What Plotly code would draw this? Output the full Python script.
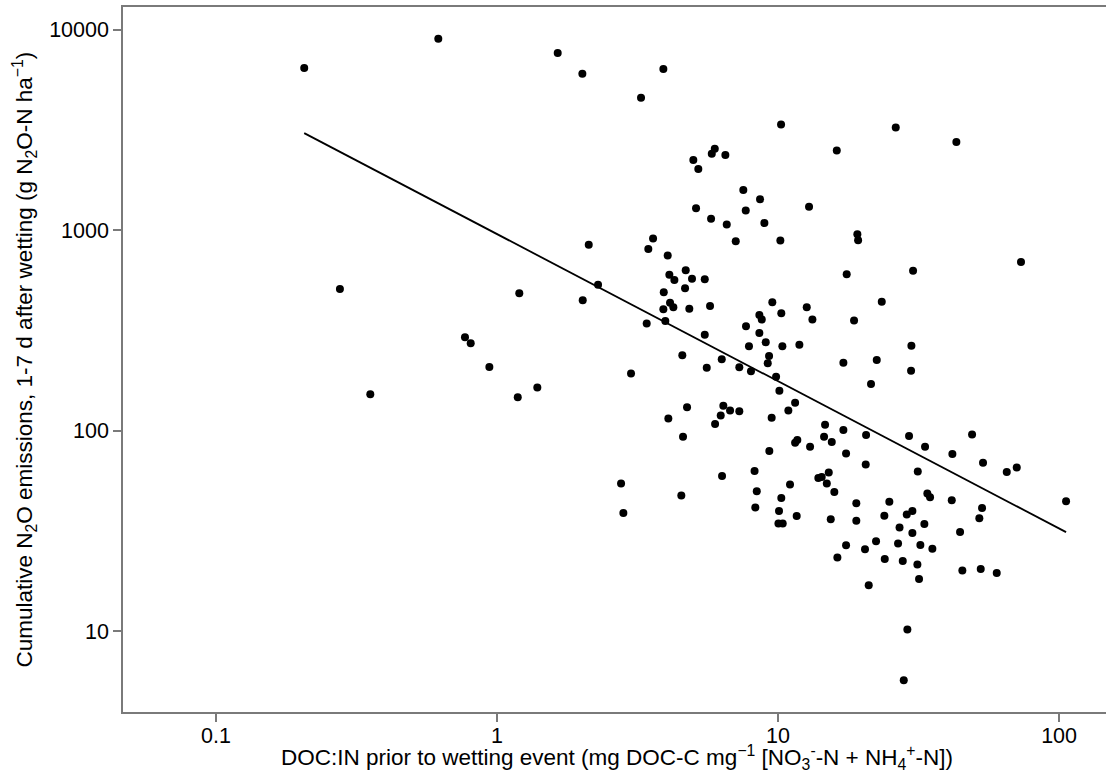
import numpy as np
import plotly.graph_objects as go

# DOC:IN ratio (x) and cumulative N2O emissions (y)
doc_in = [
    0.206, 0.618, 0.276, 0.769, 0.806, 0.354, 1.644, 2.012, 3.907, 3.254,
    10.25, 5.954, 5.810, 6.493, 4.995, 5.203, 7.523, 8.628, 5.107, 7.674,
    5.776, 6.568, 8.94, 7.07, 10.19, 2.12, 3.591, 3.454, 4.049, 26.23,
    43.1, 16.18, 12.89, 19.15, 19.27, 17.55, 30.23, 73.2, 4.104, 4.276,
    4.693, 4.941, 5.485, 4.667, 3.92, 1.20, 2.288, 2.018, 4.127, 4.241,
    3.907, 4.833, 5.728, 3.971, 3.409, 5.485, 4.564, 6.304, 5.575, 0.939,
    2.998, 1.391, 1.185, 4.744, 4.07, 6.387, 6.749, 6.252, 5.969, 4.59,
    23.39, 9.54, 10.27, 12.65, 13.25, 18.64, 8.58, 8.75, 7.69, 8.58,
    9.04, 7.88, 10.36, 11.91, 9.29, 9.19, 7.28, 8.01, 9.84, 17.08,
    22.45, 21.42, 10.11, 11.50, 10.88, 7.28, 9.49, 14.70, 17.08, 20.57,
    14.58, 15.53, 11.50, 11.71, 13.0, 9.31, 17.46, 20.51, 8.25, 29.82,
    29.74, 29.25, 33.35, 41.72, 49.03, 53.63, 65.14, 70.7, 31.42, 24.89,
    33.98, 34.74, 41.51, 53.2, 105.9, 23.89, 28.71, 30.06, 52.03, 27.06,
    33.16, 30.06, 44.43, 26.73, 32.09, 35.41, 27.78, 31.32, 31.75, 45.27,
    52.63, 60.0, 28.85, 28.01, 11.03, 13.91, 14.30, 15.15, 14.91, 15.86,
    10.27, 10.08, 10.39, 11.65, 15.40, 18.99, 18.99, 17.46, 16.26, 20.39,
    22.32, 23.97, 21.02, 2.763, 2.815, 4.527, 6.32, 8.40, 8.30, 10.03,
]
n2o = [
    6440, 9020, 509, 292, 273, 152, 7650, 6030, 6365, 4576,
    3367, 2546, 2404, 2368, 2236, 2016, 1584, 1428, 1288, 1253,
    1139, 1067, 1087, 881, 887, 845, 908, 806, 747, 3253,
    2750, 2497, 1307, 955, 891, 603, 628, 694, 600, 565,
    631, 573, 569, 513, 490, 485, 535, 447, 434, 413,
    403, 406, 419, 352, 342, 301, 238, 227, 206, 208,
    193, 164, 147, 131, 115, 133, 126, 119, 108, 93.2,
    439, 437, 385, 413, 358, 354, 378, 358, 332, 307,
    276, 264, 264, 268, 236, 217, 207, 198, 186, 218,
    225, 171, 158, 138, 126, 125, 116, 107, 100.7, 95.1,
    93.2, 87.7, 87.0, 89.8, 83.1, 79.3, 77.0, 67.9, 62.9, 265,
    199, 94.0, 83.1, 76.4, 95.8, 69.1, 62.3, 65.6, 62.6, 44.2,
    48.6, 46.5, 45.0, 41.1, 44.5, 37.6, 38.2, 39.8, 36.6, 32.9,
    34.2, 30.9, 31.2, 27.4, 26.9, 25.8, 22.4, 21.5, 18.2, 20.1,
    20.4, 19.5, 10.2, 5.69, 53.9, 58.0, 58.7, 61.9, 54.6, 49.4,
    46.2, 39.8, 34.4, 37.5, 36.2, 43.5, 35.5, 26.8, 23.3, 25.6,
    28.1, 22.9, 16.95, 54.6, 38.9, 47.5, 59.5, 49.9, 41.4, 34.4,
]

# log-log regression line: log10(y) = fit_intercept + fit_slope * log10(x)
fit_slope = -0.734
fit_intercept = 2.9805

x_ticks = [0.1, 1, 10, 100]
x_ticklabels = ["0.1", "1", "10", "100"]
y_ticks = [10, 100, 1000, 10000]
y_ticklabels = ["10", "100", "1000", "10000"]

FONT = "Liberation Sans, Arial, sans-serif"
AXIS_COLOR = "#7a7a7a"
TICK_SIZE = 21.5
TITLE_SIZE = 22.5

line_x = np.array([min(doc_in), max(doc_in)])
line_y = 10 ** (fit_intercept + fit_slope * np.log10(line_x))

fig = go.Figure()
fig.add_trace(go.Scatter(
    x=line_x, y=line_y, mode="lines",
    line=dict(color="black", width=1.8), showlegend=False, hoverinfo="skip",
))
fig.add_trace(go.Scatter(
    x=doc_in, y=n2o, mode="markers",
    marker=dict(color="black", size=8, line=dict(width=0)),
    showlegend=False,
))

fig.update_layout(
    width=1106, height=782,
    margin=dict(l=123, r=0, t=7, b=70),
    paper_bgcolor="white", plot_bgcolor="white",
    font=dict(family=FONT, size=TICK_SIZE, color="black"),
    showlegend=False,
)
fig.update_xaxes(
    type="log", range=[-1.331, 2.167],
    tickvals=x_ticks, ticktext=x_ticklabels,
    ticks="outside", ticklen=8, tickwidth=1.5, tickcolor=AXIS_COLOR,
    ticklabelstandoff=-5,
    showline=True, linecolor=AXIS_COLOR, linewidth=1.5, mirror=True,
    showgrid=False, zeroline=False,
    tickfont=dict(family=FONT, size=TICK_SIZE, color="black"),
)
fig.update_yaxes(
    type="log", range=[0.597, 4.113],
    tickvals=y_ticks, ticktext=y_ticklabels,
    ticks="outside", ticklen=8, tickwidth=1.5, tickcolor=AXIS_COLOR,
    showline=True, linecolor=AXIS_COLOR, linewidth=1.5, mirror=False,
    showgrid=False, zeroline=False,
    tickfont=dict(family=FONT, size=TICK_SIZE, color="black"),
)

fig.add_annotation(
    text="DOC:IN prior to wetting event (mg DOC-C mg<sup>\u22121</sup> "
         "[NO<sub>3</sub><sup>-</sup>-N + NH<sub>4</sub><sup>+</sup>-N])",
    xref="paper", yref="paper", x=0.5, y=-0.064, xshift=2.5,
    xanchor="center", yanchor="middle", showarrow=False,
    font=dict(family=FONT, size=TITLE_SIZE, color="black"),
)
fig.add_annotation(
    text="Cumulative N<sub>2</sub>O emissions, 1-7 d after wetting "
         "(g N<sub>2</sub>O-N ha<sup>\u22121</sup>)",
    xref="paper", yref="paper", x=-0.1007, y=0.5,
    xanchor="center", yanchor="middle", textangle=-90, showarrow=False,
    font=dict(family=FONT, size=TITLE_SIZE, color="black"),
)

fig.write_html("out.html")
